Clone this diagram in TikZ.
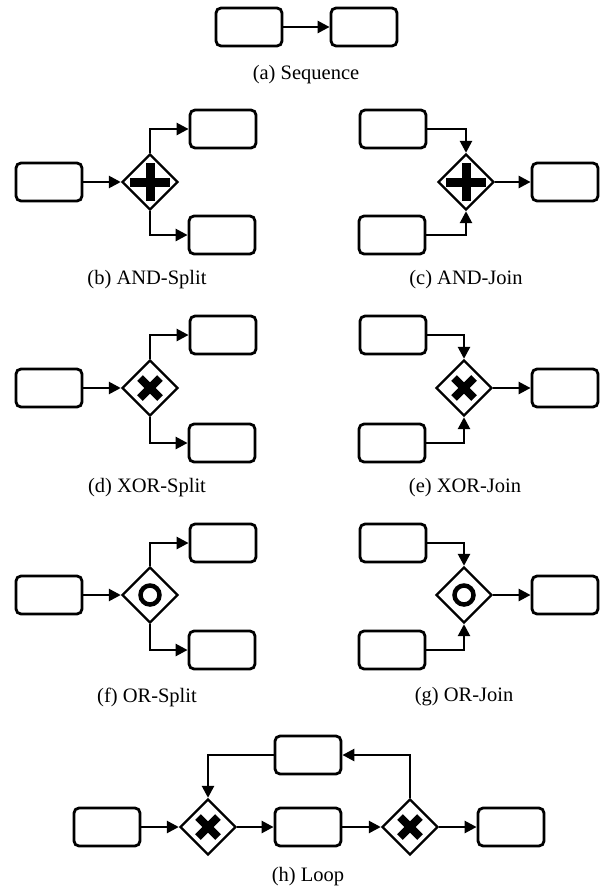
\documentclass[tikz,border=0pt]{standalone}
\usepackage{fontspec}
\setmainfont{Liberation Serif}
\usetikzlibrary{shapes.geometric,arrows.meta}
\tikzset{
  task/.style={draw, rounded corners=5pt, line width=2.8pt, minimum width=66pt, minimum height=38pt, inner sep=0pt},
  gw/.style={draw, shape=diamond, line width=2.4pt, minimum size=56pt, inner sep=0pt},
  arr/.style={line width=2.6pt, -{Triangle[length=12pt,width=12pt]}},
  captext/.style={font=\fontsize{20.5}{24}\selectfont, inner sep=0pt},
  plusmark/.pic={\fill (-20,-4.5) rectangle (20,4.5); \fill (-4.5,-19) rectangle (4.5,19);},
  xmark/.pic={\draw[line width=8pt] (-10,-10) -- (10,10) (-10,10) -- (10,-10);},
  omark/.pic={\draw[line width=4.5pt] (0,0) circle (9.5);}
}
\begin{document}
\begin{tikzpicture}[x=1pt,y=-1pt]
\useasboundingbox (0,0) rectangle (607,886);
% (a) Sequence
\node[task] (a1) at (249,27) {};
\node[task] (a2) at (364,27) {};
\draw[arr] (a1) -- (a2);
\node[captext] (ca) at (306,75) {(a) Sequence};
% (b) AND-Split
\node[task] (b0) at (49,182) {};
\node[gw] (bg) at (150,182) {};
\pic at (bg.center) {plusmark};
\node[task] (b1) at (223,129) {};
\node[task] (b2) at (222,235) {};
\draw[arr] (b0) -- (bg);
\draw[arr] (bg.north) |- (b1.west);
\draw[arr] (bg.south) |- (b2.west);
\node[captext] (cb) at (147,280) {(b) AND-Split};
% (c) AND-Join
\node[task] (c1) at (393,129) {};
\node[task] (c2) at (392,235) {};
\node[gw] (cg) at (466,182) {};
\pic at (cg.center) {plusmark};
\node[task] (c0) at (565,182) {};
\draw[arr] (c1.east) -| (cg.north);
\draw[arr] (c2.east) -| (cg.south);
\draw[arr] (cg) -- (c0);
\node[captext] (cc) at (466,280) {(c) AND-Join};
% (d) XOR-Split
\node[task] (d0) at (49,388) {};
\node[gw] (dg) at (150,388) {};
\pic at (dg.center) {xmark};
\node[task] (d1) at (223,335) {};
\node[task] (d2) at (222,443) {};
\draw[arr] (d0) -- (dg);
\draw[arr] (dg.north) |- (d1.west);
\draw[arr] (dg.south) |- (d2.west);
\node[captext] (cd) at (147,488) {(d) XOR-Split};
% (e) XOR-Join
\node[task] (e1) at (393,335) {};
\node[task] (e2) at (392,443) {};
\node[gw] (eg) at (464,388) {};
\pic at (eg.center) {xmark};
\node[task] (e0) at (565,388) {};
\draw[arr] (e1.east) -| (eg.north);
\draw[arr] (e2.east) -| (eg.south);
\draw[arr] (eg) -- (e0);
\node[captext] (ce) at (465,488) {(e) XOR-Join};
% (f) OR-Split
\node[task] (f0) at (49,595) {};
\node[gw] (fg) at (150,595) {};
\pic at (fg.center) {omark};
\node[task] (f1) at (223,543) {};
\node[task] (f2) at (222,650) {};
\draw[arr] (f0) -- (fg);
\draw[arr] (fg.north) |- (f1.west);
\draw[arr] (fg.south) |- (f2.west);
\node[captext] (cf) at (147,697) {(f) OR-Split};
% (g) OR-Join
\node[task] (g1) at (393,543) {};
\node[task] (g2) at (392,650) {};
\node[gw] (gg) at (464,595) {};
\pic at (gg.center) {omark};
\node[task] (g0) at (565,595) {};
\draw[arr] (g1.east) -| (gg.north);
\draw[arr] (g2.east) -| (gg.south);
\draw[arr] (gg) -- (g0);
\node[captext] (cg2) at (464,697) {(g) OR-Join};
% (h) Loop
\node[task] (h1) at (107,827) {};
\node[gw] (hg1) at (208,827) {};
\pic at (hg1.center) {xmark};
\node[task] (h2) at (308,827) {};
\node[gw] (hg2) at (410,827) {};
\pic at (hg2.center) {xmark};
\node[task] (h3) at (511,827) {};
\node[task] (ht) at (308,755) {};
\draw[arr] (h1) -- (hg1);
\draw[arr] (hg1) -- (h2);
\draw[arr] (h2) -- (hg2);
\draw[arr] (hg2) -- (h3);
\draw[arr] (hg2.north) |- (ht.east);
\draw[arr] (ht.west) -| (hg1.north);
\node[captext] (ch) at (308,877) {(h) Loop};
\end{tikzpicture}
\end{document}
